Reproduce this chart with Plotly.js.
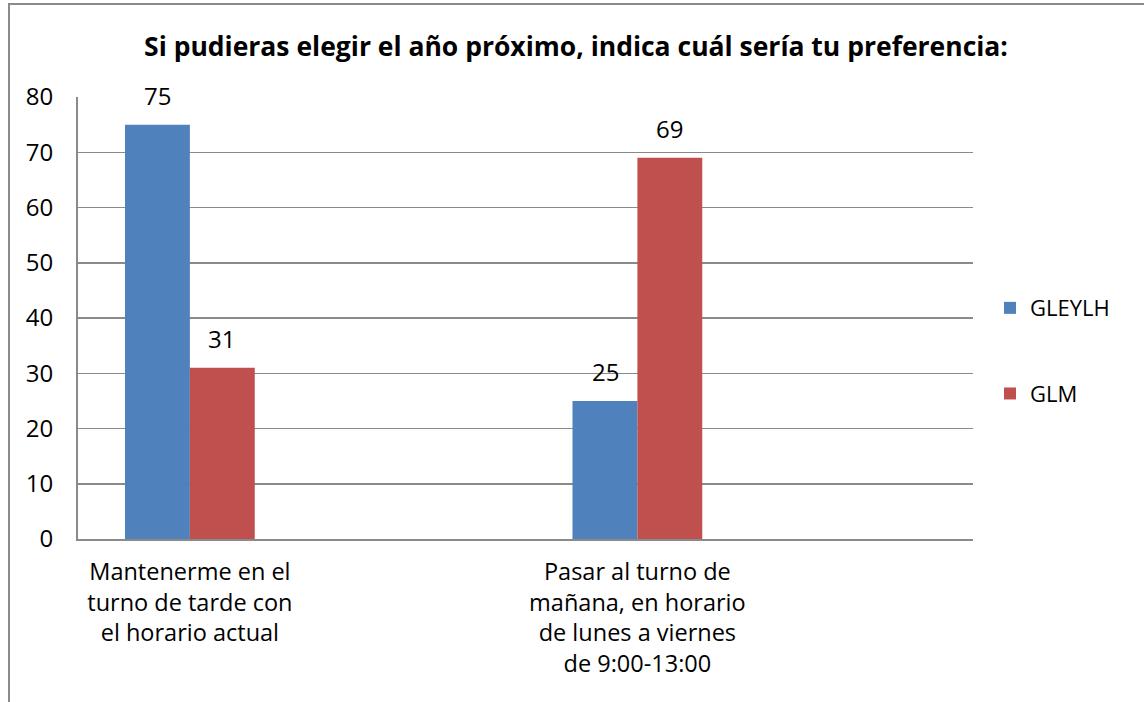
<!DOCTYPE html>
<html><head><meta charset="utf-8">
<script src="https://cdn.plot.ly/plotly-3.0.1.min.js"></script>
<style>
html,body{margin:0;padding:0;background:#fff;}
#wrap{position:relative;width:1144px;height:702px;}
#chart{width:1144px;height:702px;}
#frame{position:absolute;left:8px;top:3px;width:1136px;height:699px;border-left:2px solid #8a8a8a;border-top:2px solid #8a8a8a;pointer-events:none;}
</style></head>
<body>
<div id="wrap"><div id="chart"></div><div id="frame"></div></div>
<script>
const titleText = "Si pudieras elegir el año próximo, indica cuál sería tu preferencia:";
const categories = [
  "Mantenerme en el<br>turno de tarde con<br>el horario actual",
  "Pasar al turno de<br>mañana, en horario<br>de lunes a viernes<br>de 9:00-13:00"
];
const seriesNames = ["GLEYLH", "GLM"];
const gleylh = [75, 25];
const glm = [31, 69];
const colors = ["#4F81BD", "#C0504D"];

const font = "Open Sans, Noto Sans, sans-serif";
const seriesVals = [gleylh, glm];
const traces = seriesVals.map((vals, i) => ({
  type: "bar", x: categories, y: vals, name: seriesNames[i],
  marker: {color: colors[i]}, legendgroup: "g" + i, hoverinfo: "skip"
}));

const barPx = 64;
const annotations = [];
seriesVals.forEach((vals, i) => {
  vals.forEach((v, j) => {
    annotations.push({
      x: categories[j], y: v, xref: "x", yref: "y", text: String(v),
      showarrow: false, yanchor: "bottom", yshift: 11,
      xshift: (i === 0 ? -1 : 1) * barPx / 2,
      font: {family: font, size: 24, color: "#000"}
    });
  });
});

const layout = {
  width: 1144, height: 702,
  margin: {l: 78, r: 171, t: 97, b: 163},
  paper_bgcolor: "#fff", plot_bgcolor: "#fff",
  barmode: "group", bargap: 0.71, bargroupgap: 0,
  title: {text: "<b>" + titleText + "</b>", xref: "container", yref: "container",
    x: 0.5035, y: 1 - 47/702, xanchor: "center", yanchor: "middle",
    font: {family: font, size: 26.5, color: "#000"}},
  xaxis: {type: "category", range: [-0.25, 1.75], showgrid: false,
    showline: true, linecolor: "#8a8a8a", linewidth: 2, ticks: "",
    ticklabelstandoff: 11, tickfont: {family: font, size: 23.5, color: "#000"}},
  yaxis: {range: [0, 80], dtick: 10, showgrid: true, gridcolor: "#8a8a8a", gridwidth: 1.5,
    showline: true, linecolor: "#8a8a8a", linewidth: 2, ticks: "", zeroline: false,
    ticklabelstandoff: 18, tickfont: {family: font, size: 24, color: "#000"}},
  showlegend: true,
  legend: {x: 1.019, xanchor: "left", y: 0.57, yanchor: "top", traceorder: "grouped",
    tracegroupgap: 54, font: {family: font, size: 22, color: "#000"}, bgcolor: "rgba(0,0,0,0)"},
  annotations: annotations
};
Plotly.newPlot("chart", traces, layout, {displayModeBar: false, staticPlot: true});
</script>
</body></html>
